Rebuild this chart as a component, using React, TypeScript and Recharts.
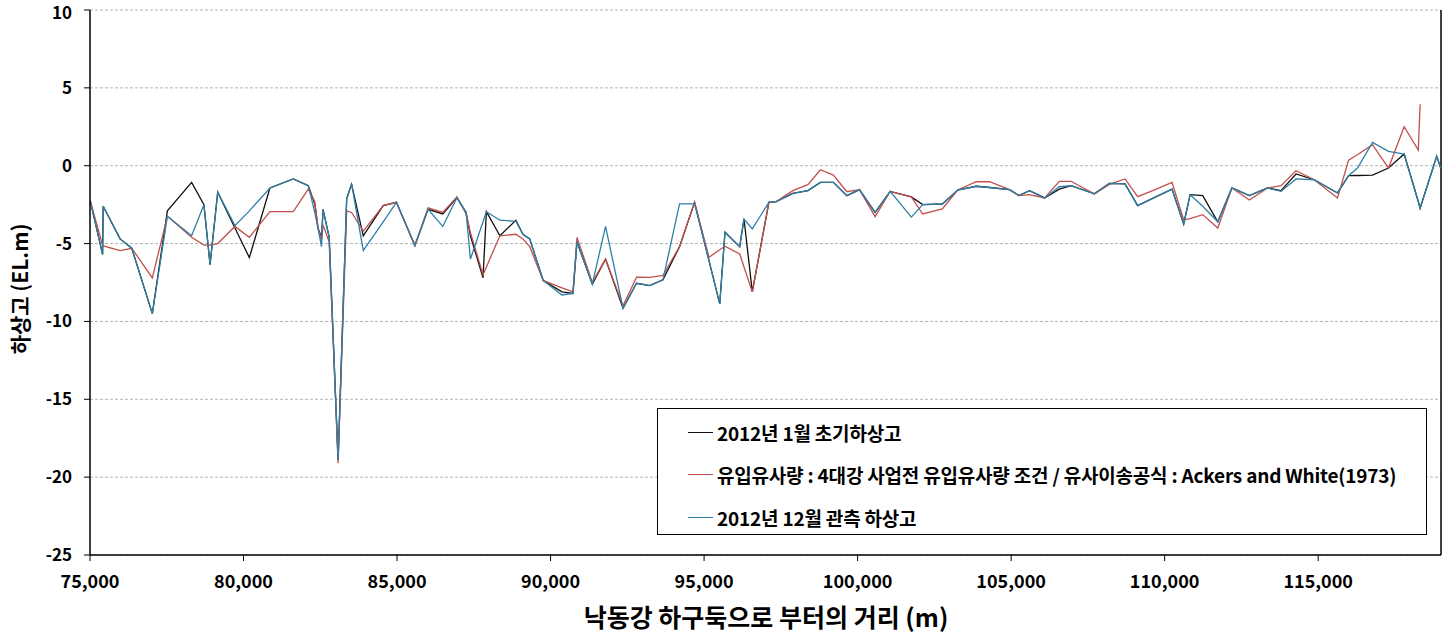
import React from 'react';
import {
    LineChart,
    Line,
    XAxis,
    YAxis,
    CartesianGrid,
    Legend,
    ReferenceLine,
} from 'recharts';

// 낙동강 하구둑으로부터의 거리 (m)
const distances = [
    75000, 75410, 75430, 75980, 76360, 77030, 77520, 78310, 78710, 78910,
    79160, 79720, 80190, 80860, 81620, 82110, 82320, 82430, 82540, 82590,
    82790, 83080, 83360, 83520, 83900, 84550, 84980, 85580, 86010, 86490,
    86950, 87250, 87390, 87800, 87910, 88350, 88870, 89100, 89320, 89760,
    90370, 90730, 90860, 91360, 91790, 92360, 92800, 93230, 93660, 94200,
    94690, 95160, 95510, 95680, 96160, 96300, 96570, 97110, 97350, 97890,
    98380, 98790, 99210, 99650, 100060, 100570, 101060, 101750, 102120, 102760,
    103260, 103860, 104300, 104950, 105250, 105600, 106090, 106570, 106950, 107710,
    108200, 108710, 109120, 109610, 110240, 110620, 110830, 111240, 111730, 112190,
    112760, 113350, 113790, 114280, 114870, 115630, 115990, 116280, 116770, 117290,
    117800, 118260, 118320, 118860, 119000,
];

// 2012년 1월 초기하상고
const initialBed = [
    -2.2, -5.7, -2.6, -4.7, -5.3, -9.5, -2.9, -1.07, -2.5, -6.35,
    -1.7, -4.0, -5.9, -1.43, -0.85, -1.28, -2.45, -4.05, -4.6, -2.8,
    -4.6, -18.9, -2.1, -1.2, -4.5, -2.56, -2.35, -5.13, -2.8, -3.1,
    -2.05, -3.0, -4.5, -7.2, -2.95, -4.5, -3.5, -4.4, -4.7, -7.37,
    -8.1, -8.2, -4.9, -7.6, -6.0, -9.15, -7.55, -7.7, -7.33, -5.2,
    -2.35, -6.1, -8.87, -4.27, -5.2, -3.42, -8.1, -2.35, -2.3, -1.78,
    -1.6, -1.07, -1.07, -1.92, -1.54, -3.0, -1.65, -2.0, -2.5, -2.46,
    -1.56, -1.32, -1.4, -1.54, -1.92, -1.6, -2.07, -1.5, -1.28, -1.81,
    -1.13, -1.17, -2.56, -2.1, -1.5, -3.74, -1.86, -1.92, -3.6, -1.43,
    -1.92, -1.43, -1.6, -0.53, -0.9, -1.75, -0.64, -0.63, -0.6, -0.15,
    0.75, -2.3, -2.73, 0.6, -0.2,
];

// 유입유사량 : 4대강 사업전 조건 / Ackers and White(1973)
const simulatedBed = [
    -2.2, -5.1, -5.15, -5.45, -5.3, -7.2, -3.25, -4.6, -5.1, -5.1,
    -5.0, -3.9, -4.6, -2.95, -2.95, -1.5, -2.3, -4.0, -4.8, -3.8,
    -4.9, -19.1, -2.9, -3.0, -4.2, -2.56, -2.35, -5.13, -2.7, -3.0,
    -2.0, -3.1, -4.3, -7.0, -6.5, -4.5, -4.4, -4.7, -5.2, -7.37,
    -7.84, -8.1, -4.6, -7.5, -6.0, -9.0, -7.16, -7.17, -7.05, -5.2,
    -2.35, -5.88, -5.4, -5.17, -5.66, -6.5, -8.1, -2.35, -2.3, -1.6,
    -1.22, -0.26, -0.6, -1.67, -1.54, -3.27, -1.65, -2.0, -3.1, -2.78,
    -1.56, -1.03, -1.03, -1.54, -1.92, -1.86, -2.07, -1.0, -1.0, -1.81,
    -1.2, -0.85, -1.99, -1.6, -1.07, -3.48, -3.4, -3.14, -4.0, -1.43,
    -2.2, -1.43, -1.28, -0.32, -0.9, -2.07, 0.36, 0.7, 1.35, -0.15,
    2.5, 1.0, 3.95, null, null,
];

// 2012년 12월 관측 하상고
const observedBed = [
    -2.2, -5.7, -2.6, -4.7, -5.3, -9.5, -3.25, -4.5, -2.5, -6.35,
    -1.7, -3.85, -2.9, -1.43, -0.85, -1.28, -3.0, -4.05, -5.2, -2.8,
    -4.6, -18.9, -2.1, -1.17, -5.45, -3.6, -2.35, -5.13, -2.8, -3.9,
    -2.05, -3.0, -6.0, -3.6, -2.95, -3.5, -3.57, -4.4, -4.7, -7.37,
    -8.3, -8.2, -4.9, -7.6, -3.9, -9.15, -7.55, -7.7, -7.33, -2.45,
    -2.45, -6.1, -8.87, -4.27, -5.2, -3.42, -4.06, -2.35, -2.3, -1.78,
    -1.6, -1.07, -1.07, -1.92, -1.54, -3.0, -1.65, -3.3, -2.5, -2.46,
    -1.56, -1.32, -1.4, -1.54, -1.92, -1.6, -2.07, -1.35, -1.28, -1.81,
    -1.13, -1.17, -2.56, -2.1, -1.5, -3.74, -1.86, -2.6, -3.6, -1.43,
    -1.92, -1.43, -1.65, -0.85, -0.9, -1.75, -0.64, -0.15, 1.5, 0.92,
    0.75, -2.3, -2.73, 0.6, -0.2,
];

const xTicks = [75000, 80000, 85000, 90000, 95000, 100000, 105000, 110000, 115000];
const yTicks = [10, 5, 0, -5, -10, -15, -20, -25];

const seriesNames = [
    '2012년 1월 초기하상고',
    '유입유사량 : 4대강 사업전 유입유사량 조건 / 유사이송공식 : Ackers and White(1973)',
    '2012년 12월 관측 하상고',
];

const FONT = '"Noto Sans CJK KR", "Noto Sans", sans-serif';

const chartData = distances.map((d, i) => ({
    distance: d,
    initial: initialBed[i],
    simulated: simulatedBed[i],
    observed: observedBed[i],
}));

// y축 눈금 글자 - 맨 위 값은 잘리지 않게 살짝 내림
const YTick = ({ x, y, payload }: any) => (
    <text
        x={x}
        y={y + (payload.value === yTicks[0] ? 3 : 0)}
        dy="0.35em"
        textAnchor="end"
        style={{ fill: '#000', fontSize: 17, fontWeight: 700, fontFamily: FONT }}
    >
        {payload.value}
    </text>
);

// 범례 박스 (차트 안쪽 오른쪽 아래) - 시리즈 순서대로
const LegendBox = ({ payload }: any) => {
    const items = [...(payload || [])].sort(
        (a: any, b: any) => seriesNames.indexOf(a.value) - seriesNames.indexOf(b.value)
    );
    return (
        <div
            style={{
                width: 770,
                height: 127,
                border: '1px solid #000',
                background: '#fff',
                boxSizing: 'border-box',
                paddingTop: 2,
                fontFamily: FONT,
            }}
        >
            {items.map((entry: any) => (
                <div key={entry.value} style={{ display: 'flex', alignItems: 'center', height: 42.5, paddingLeft: 30 }}>
                    <span style={{ display: 'inline-block', width: 25, height: 1, background: entry.color, marginRight: 4 }} />
                    <span style={{ fontSize: 19, fontWeight: 700, color: '#000', whiteSpace: 'nowrap', letterSpacing: -0.2 }}>
                        {entry.value}
                    </span>
                </div>
            ))}
        </div>
    );
};

const App = () => {
    return (
        <div style={{ position: 'absolute', left: 0, top: 0, background: '#fff' }}>
            <LineChart
                width={1449}
                height={635}
                data={chartData}
                margin={{ top: 10, right: 8, left: 0, bottom: 0 }}
            >
                <CartesianGrid vertical={false} stroke="#b4b4b4" strokeDasharray="3 2" />
                <XAxis
                    dataKey="distance"
                    type="number"
                    domain={[75000, 119000]}
                    ticks={xTicks}
                    interval={0}
                    allowDataOverflow
                    tickFormatter={(v: number) => v.toLocaleString('en-US')}
                    height={80}
                    tickSize={6}
                    tickMargin={14}
                    axisLine={{ stroke: '#000', strokeWidth: 1.5 }}
                    tickLine={{ stroke: '#000' }}
                    tick={{ fill: '#000', fontSize: 18, fontWeight: 700, fontFamily: FONT }}
                    label={{
                        content: () => (
                            <text
                                x={766}
                                y={627}
                                textAnchor="middle"
                                style={{ fontSize: 25, fontWeight: 700, fontFamily: FONT, fill: '#000' }}
                            >
                                낙동강 하구둑으로 부터의 거리 (m)
                            </text>
                        ),
                    }}
                />
                <YAxis
                    type="number"
                    domain={[-25, 10]}
                    ticks={yTicks}
                    interval={0}
                    width={90}
                    tickSize={6}
                    tickMargin={12}
                    axisLine={{ stroke: '#000', strokeWidth: 1.5 }}
                    tickLine={{ stroke: '#000' }}
                    tick={<YTick />}
                    label={{
                        content: () => (
                            <text
                                x={28}
                                y={289}
                                textAnchor="middle"
                                transform="rotate(-90, 28, 289)"
                                style={{ fontSize: 21, fontWeight: 700, fontFamily: FONT, fill: '#000' }}
                            >
                                하상고 (EL.m)
                            </text>
                        ),
                    }}
                />
                <ReferenceLine x={119000} stroke="#000" strokeWidth={1.5} />
                <Line
                    dataKey="initial"
                    name={seriesNames[0]}
                    stroke="#111111"
                    strokeWidth={1.3}
                    dot={false}
                    isAnimationActive={false}
                />
                <Line
                    dataKey="simulated"
                    name={seriesNames[1]}
                    stroke="#c0504d"
                    strokeWidth={1.3}
                    dot={false}
                    isAnimationActive={false}
                />
                <Line
                    dataKey="observed"
                    name={seriesNames[2]}
                    stroke="#2f7fa6"
                    strokeWidth={1.3}
                    dot={false}
                    isAnimationActive={false}
                />
                <Legend
                    layout="horizontal"
                    verticalAlign="middle"
                    align="center"
                    content={<LegendBox />}
                    wrapperStyle={{ left: 657, top: 408, width: 770, height: 127 }}
                />
            </LineChart>
        </div>
    );
};

export default App;
